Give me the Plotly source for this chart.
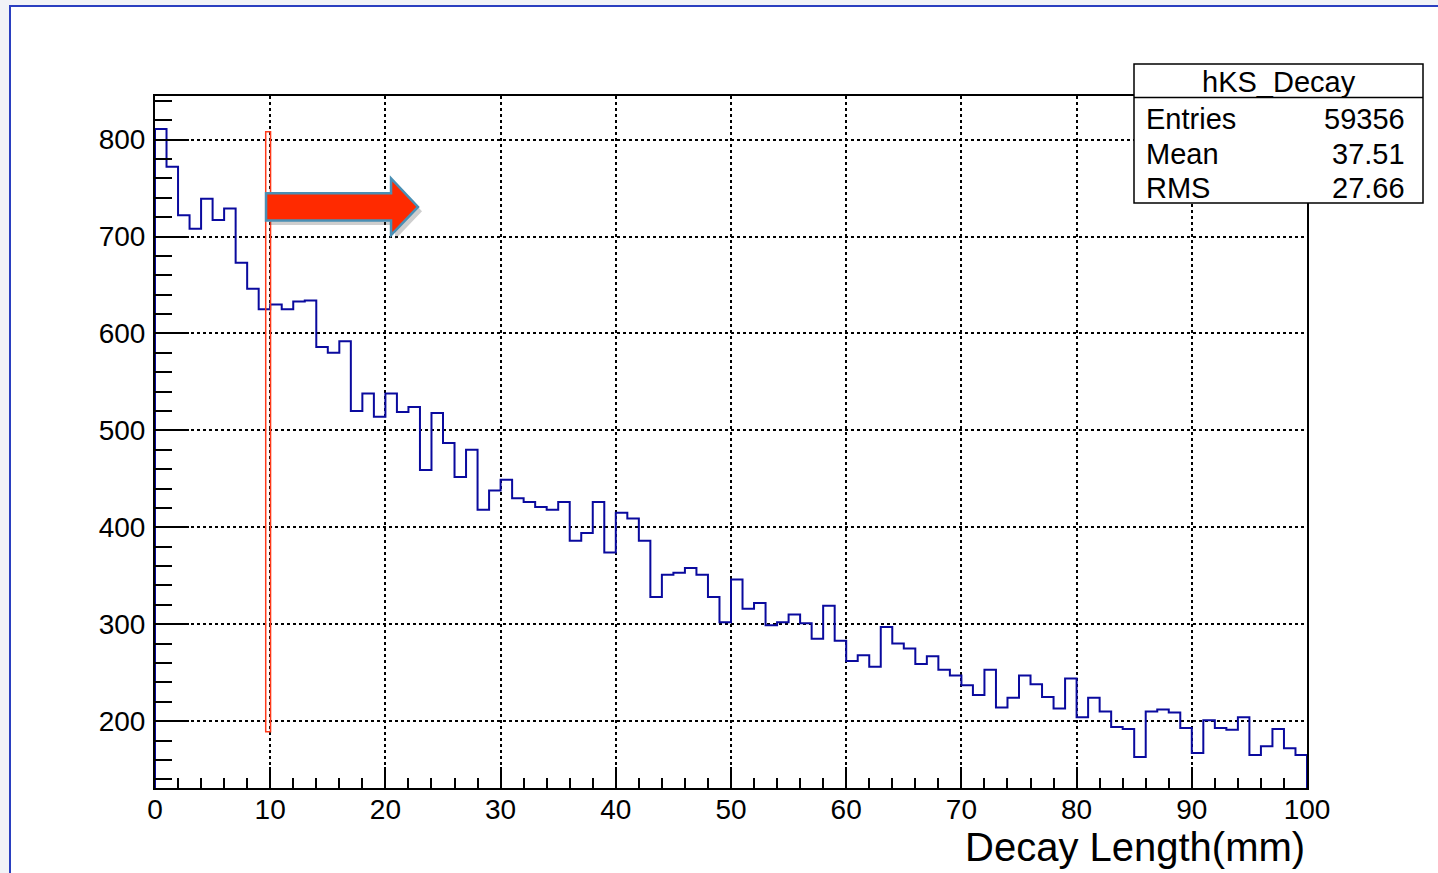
import numpy as np
import plotly.graph_objects as go

# ---------------- data ----------------
bin_edges = list(range(0, 101))  # Decay length (mm), 1 mm bins
counts = [811, 772, 722, 708, 739, 717, 729, 673, 646, 625,
          630, 625, 633, 634, 586, 580, 592, 520, 538, 514,
          538, 519, 524, 459, 518, 487, 452, 480, 418, 438,
          449, 430, 426, 421, 418, 426, 386, 394, 426, 374,
          415, 409, 386, 328, 351, 353, 358, 351, 328, 302,
          346, 316, 322, 299, 302, 310, 301, 285, 319, 283,
          262, 268, 256, 297, 280, 275, 259, 267, 253, 247,
          237, 227, 253, 214, 224, 247, 238, 225, 213, 244,
          204, 224, 210, 194, 192, 163, 210, 212, 209, 193,
          167, 201, 193, 191, 204, 165, 174, 192, 172, 165]
x_ticks = [0, 10, 20, 30, 40, 50, 60, 70, 80, 90, 100]
y_ticks = [200, 300, 400, 500, 600, 700, 800]
hist_name = "hKS_Decay"
stat_labels = ["Entries", "Mean", "RMS"]
stat_values = ["59356", "37.51", "27.66"]
x_title = "Decay Length(mm)"

X_RANGE = [0, 100]
Y_RANGE = [131, 845]

FONT = "Liberation Sans, Arial, Helvetica, sans-serif"

# ---------------- figure geometry ----------------
W, H = 1438, 873
L, R, T, B = 155, 131, 96, 85
PW = W - L - R
PH = H - T - B


def px2paper_x(px):
    return (px - L) / PW


def px2paper_y(py):
    return (H - B - py) / PH


# step outline of the histogram
xs = [bin_edges[0]] + bin_edges[:-1] + [bin_edges[-1], bin_edges[-1]]
ys = [Y_RANGE[0]] + counts + [counts[-1], Y_RANGE[0]]

fig = go.Figure()
fig.add_trace(go.Scatter(
    x=xs, y=ys, mode="lines", line_shape="hv",
    line=dict(color="#0a0a9e", width=2), showlegend=False, hoverinfo="skip",
))

shapes = []
# slide frame (light background, white page with blue border)
shapes.append(dict(type="rect", xref="paper", yref="paper",
                   x0=px2paper_x(10), x1=px2paper_x(W + 20),
                   y0=px2paper_y(H + 20), y1=px2paper_y(6),
                   line=dict(color="#2a3fc0", width=2), fillcolor="white",
                   layer="below"))

# red vertical cut marker at 10 mm
shapes.append(dict(type="rect", xref="x", yref="y",
                   x0=9.61, x1=10.03, y0=189, y1=808,
                   line=dict(color="#ff3a1a", width=1.5), fillcolor="rgba(0,0,0,0)",
                   layer="above"))

# arrow shadow and arrow (data coordinates)
def arrow_path(dx=0.0, dy=0.0):
    pts = [(9.64, 744.6), (20.49, 744.6), (20.49, 760.0), (22.83, 730.5),
           (20.49, 701.5), (20.49, 716.5), (9.64, 716.5)]
    s = "M " + " L ".join(f"{x + dx},{y + dy}" for x, y in pts) + " Z"
    return s

shapes.append(dict(type="path", xref="x", yref="y", path=arrow_path(0.35, -4.5),
                   line=dict(color="rgba(0,0,0,0)", width=0),
                   fillcolor="rgba(60,60,60,0.25)", layer="above"))
shapes.append(dict(type="path", xref="x", yref="y", path=arrow_path(),
                   line=dict(color="#4a8fb4", width=2.5),
                   fillcolor="#ff2a00", layer="above"))

# stats box
bx0, bx1 = px2paper_x(1134), px2paper_x(1423)
by0, by1 = px2paper_y(203), px2paper_y(64)
shapes.append(dict(type="rect", xref="paper", yref="paper",
                   x0=bx0, x1=bx1, y0=by0, y1=by1,
                   line=dict(color="black", width=1.5), fillcolor="white",
                   layer="above"))
shapes.append(dict(type="line", xref="paper", yref="paper",
                   x0=bx0, x1=bx1, y0=px2paper_y(97.5), y1=px2paper_y(97.5),
                   line=dict(color="black", width=1.5), layer="above"))

annotations = []
annotations.append(dict(text=hist_name, xref="paper", yref="paper",
                        x=(bx0 + bx1) / 2, y=px2paper_y(82), xanchor="center",
                        yanchor="middle", showarrow=False,
                        font=dict(family=FONT, size=29, color="black")))
stat_y = [119, 154, 188]
for lab, val, yy in zip(stat_labels, stat_values, stat_y):
    annotations.append(dict(text=lab, xref="paper", yref="paper",
                            x=px2paper_x(1144), y=px2paper_y(yy), xanchor="left",
                            yanchor="middle", showarrow=False,
                            font=dict(family=FONT, size=29, color="black")))
    annotations.append(dict(text=val, xref="paper", yref="paper",
                            x=px2paper_x(1407), y=px2paper_y(yy), xanchor="right",
                            yanchor="middle", showarrow=False,
                            font=dict(family=FONT, size=29, color="black")))

annotations.append(dict(text=x_title, xref="paper", yref="paper",
                        x=px2paper_x(1307), y=px2paper_y(847), xanchor="right",
                        yanchor="middle", showarrow=False,
                        font=dict(family=FONT, size=40, color="black")))

axis_common = dict(showline=True, linecolor="black", linewidth=2, mirror=True,
                   ticks="inside", tickcolor="black", tickwidth=2,
                   showgrid=True, gridcolor="black", gridwidth=1.5, griddash="dot",
                   zeroline=False, tickfont=dict(family=FONT, size=28, color="black"))

fig.update_layout(
    width=W, height=H,
    margin=dict(l=L, r=R, t=T, b=B, pad=0),
    paper_bgcolor="#f1f3f7", plot_bgcolor="rgba(0,0,0,0)",
    shapes=shapes, annotations=annotations,
    xaxis=dict(range=X_RANGE, tickvals=x_ticks, ticklen=21, ticklabelstandoff=-5,
               minor=dict(dtick=2, tick0=0, ticklen=10, ticks="inside",
                          tickcolor="black", tickwidth=2, showgrid=False),
               **axis_common),
    yaxis=dict(range=Y_RANGE, tickvals=y_ticks, ticklen=34, ticklabelstandoff=2,
               minor=dict(dtick=20, tick0=0, ticklen=17, ticks="inside",
                          tickcolor="black", tickwidth=2, showgrid=False),
               **axis_common),
    showlegend=False,
)

fig.write_html(
    "out.html",
    config={"displayModeBar": False},
    post_script="document.body.style.margin='0';document.body.style.overflow='hidden';"
                "document.body.style.background='#f1f3f7';",
)
